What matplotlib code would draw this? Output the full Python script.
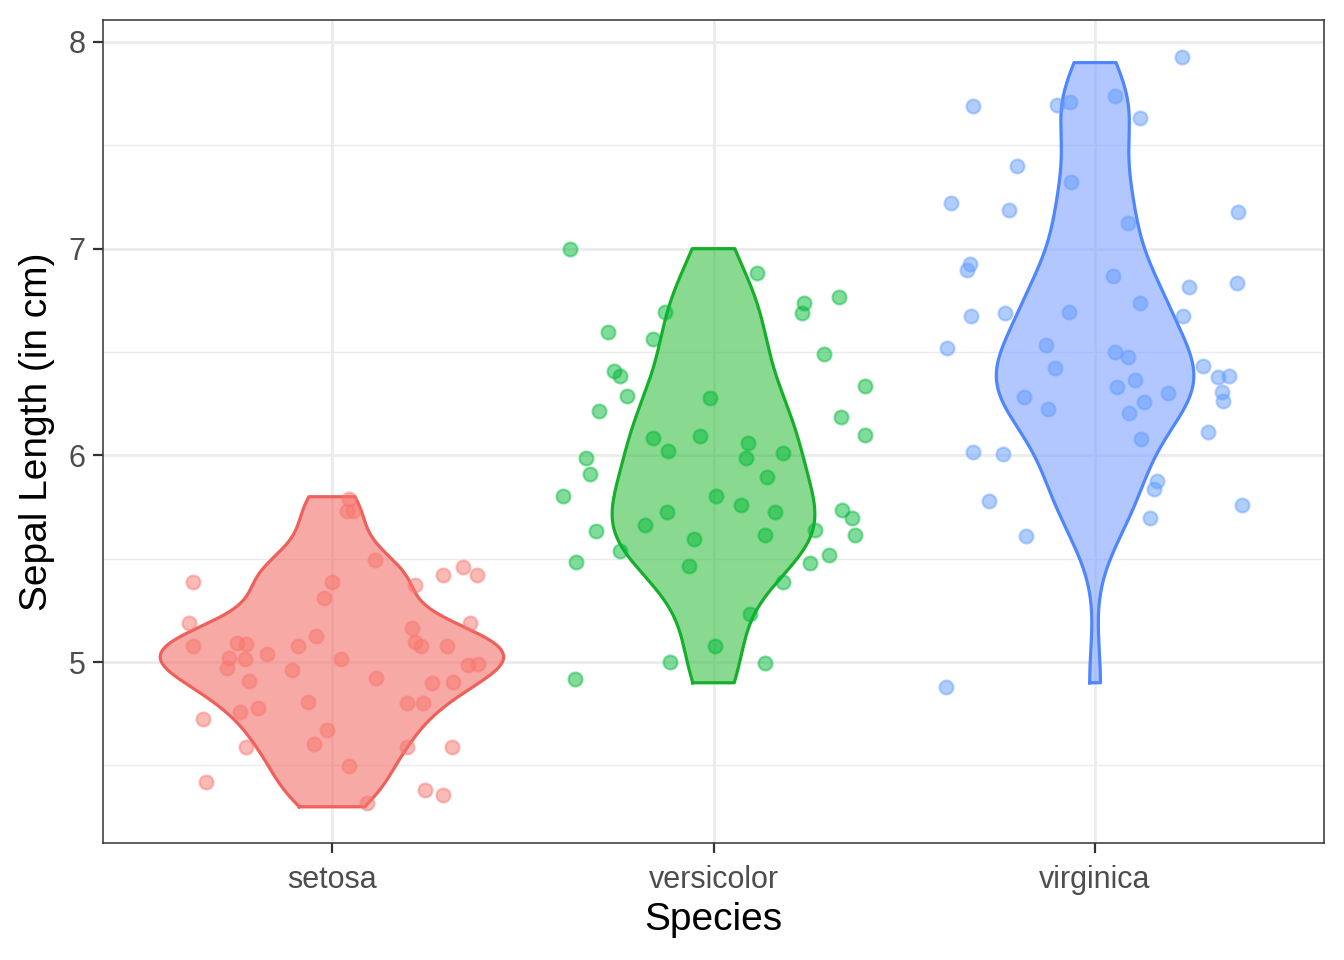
import numpy as np
import matplotlib
matplotlib.use("Agg")
import matplotlib.pyplot as plt
from matplotlib.colors import to_rgba

plt.rcParams['font.family'] = ['Liberation Sans', 'DejaVu Sans']

species = ["setosa", "versicolor", "virginica"]
point_colors = ["#F8766D", "#00BA38", "#619CFF"]
fill_colors = ["#F2716B", "#3CC046", "#80A2FF"]
line_colors = ["#F0605A", "#16AF2C", "#4E86FF"]

# Iris Sepal.Length (used for the violins)
setosa_len = [5.1, 4.9, 4.7, 4.6, 5.0, 5.4, 4.6, 5.0, 4.4, 4.9, 5.4, 4.8, 4.8, 4.3, 5.8,
              5.7, 5.4, 5.1, 5.7, 5.1, 5.4, 5.1, 4.6, 5.1, 4.8, 5.0, 5.0, 5.2, 5.2, 4.7,
              4.8, 5.4, 5.2, 5.5, 4.9, 5.0, 5.5, 4.9, 4.4, 5.1, 5.0, 4.5, 4.4, 5.0, 5.1,
              4.8, 5.1, 4.6, 5.3, 5.0]
versicolor_len = [7.0, 6.4, 6.9, 5.5, 6.5, 5.7, 6.3, 4.9, 6.6, 5.2, 5.0, 5.9, 6.0, 6.1, 5.6,
                  6.7, 5.6, 5.8, 6.2, 5.6, 5.9, 6.1, 6.3, 6.1, 6.4, 6.6, 6.8, 6.7, 6.0, 5.7,
                  5.5, 5.5, 5.8, 6.0, 5.4, 6.0, 6.7, 6.3, 5.6, 5.5, 5.5, 6.1, 5.8, 5.0, 5.6,
                  5.7, 5.7, 6.2, 5.1, 5.7]
virginica_len = [6.3, 5.8, 7.1, 6.3, 6.5, 7.6, 4.9, 7.3, 6.7, 7.2, 6.5, 6.4, 6.8, 5.7, 5.8,
                 6.4, 6.5, 7.7, 7.7, 6.0, 6.9, 5.6, 7.7, 6.3, 6.7, 7.2, 6.2, 6.1, 6.4, 7.2,
                 7.4, 7.9, 6.4, 6.3, 6.1, 7.7, 6.3, 6.4, 6.0, 6.9, 6.7, 6.9, 5.8, 6.8, 6.7,
                 6.7, 6.3, 6.5, 6.2, 5.9]

# Jittered points: horizontal offset from category, value
setosa_dx = [0.045, 0.039, 0.055, 0.113, -0.001, -0.020, -0.364, 0.218, 0.290, 0.343,
             0.379, -0.374, 0.362, -0.364, -0.250, -0.225, -0.269, -0.274, -0.228, -0.171,
             -0.088, -0.043, -0.104, 0.023, 0.209, 0.219, 0.233, 0.301, 0.357, 0.383,
             -0.218, 0.115, 0.263, 0.318, -0.062, -0.241, -0.193, 0.198, 0.239, -0.339,
             -0.014, -0.046, -0.225, 0.198, 0.314, 0.045, -0.331, 0.244, 0.290, 0.091]
setosa_y = [5.789, 5.731, 5.731, 5.494, 5.389, 5.309, 5.389, 5.373, 5.421, 5.459,
            5.421, 5.191, 5.191, 5.078, 5.091, 5.088, 5.018, 4.973, 5.014, 5.038,
            5.079, 5.128, 4.962, 5.014, 5.166, 5.099, 5.079, 5.079, 4.986, 4.989,
            4.909, 4.922, 4.897, 4.902, 4.808, 4.757, 4.776, 4.801, 4.801, 4.723,
            4.671, 4.602, 4.588, 4.588, 4.591, 4.499, 4.421, 4.381, 4.357, 4.320]

versicolor_dx = [-0.377, 0.113, -0.128, 0.237, 0.232, 0.330, -0.277, -0.159, 0.289, -0.261,
                 -0.246, -0.228, 0.398, -0.010, -0.301, 0.335, 0.396, -0.159, -0.036, -0.119,
                 0.091, 0.086, 0.183, -0.334, -0.324, 0.141, -0.395, 0.007, 0.071, -0.123,
                 0.161, 0.337, 0.364, -0.180, -0.307, -0.052, 0.134, 0.267, 0.372, -0.246,
                 -0.360, -0.063, 0.254, 0.304, 0.182, 0.095, 0.003, -0.115, 0.134, -0.364]
versicolor_y = [6.999, 6.881, 6.695, 6.739, 6.690, 6.768, 6.597, 6.562, 6.491, 6.408,
                6.384, 6.289, 6.336, 6.276, 6.216, 6.187, 6.100, 6.086, 6.094, 6.023,
                6.061, 5.989, 6.010, 5.989, 5.910, 5.897, 5.805, 5.804, 5.760, 5.728,
                5.728, 5.736, 5.696, 5.663, 5.636, 5.594, 5.615, 5.639, 5.615, 5.537,
                5.486, 5.466, 5.481, 5.518, 5.386, 5.233, 5.078, 4.999, 4.997, 4.917]

virginica_dx = [0.227, -0.321, -0.100, -0.066, 0.051, 0.118, -0.205, -0.063, -0.377, -0.225,
                0.374, 0.086, -0.328, -0.336, 0.048, 0.247, 0.371, 0.118, -0.326, -0.236,
                -0.068, 0.231, -0.387, -0.129, 0.052, 0.087, 0.284, -0.105, 0.105, 0.057,
                0.323, 0.352, -0.186, 0.192, 0.332, 0.336, 0.127, -0.124, 0.090, 0.297,
                0.120, -0.319, -0.242, 0.162, 0.155, -0.277, 0.386, 0.144, -0.181, -0.391]
virginica_y = [7.929, 7.692, 7.695, 7.708, 7.740, 7.631, 7.402, 7.324, 7.223, 7.187,
               7.179, 7.123, 6.925, 6.897, 6.869, 6.813, 6.836, 6.736, 6.676, 6.690,
               6.695, 6.676, 6.518, 6.534, 6.502, 6.476, 6.433, 6.424, 6.365, 6.332,
               6.381, 6.384, 6.284, 6.300, 6.305, 6.263, 6.260, 6.224, 6.204, 6.112,
               6.079, 6.018, 6.007, 5.878, 5.836, 5.781, 5.760, 5.696, 5.610, 4.878]

y_ticks = [5, 6, 7, 8]
y_minor = [4.5, 5.5, 6.5, 7.5]

groups = [setosa_len, versicolor_len, virginica_len]
pts_dx = [setosa_dx, versicolor_dx, virginica_dx]
pts_y = [setosa_y, versicolor_y, virginica_y]


def nrd0(x):
    x = np.asarray(x, float)
    sd = np.std(x, ddof=1)
    q75, q25 = np.percentile(x, [75, 25])
    lo = min(sd, (q75 - q25) / 1.34)
    return 0.9 * lo * len(x) ** (-0.2)


def kde(x, grid):
    x = np.asarray(x, float)
    bw = nrd0(x)
    z = (grid[:, None] - x[None, :]) / bw
    return np.exp(-0.5 * z ** 2).sum(axis=1) / (len(x) * bw * np.sqrt(2 * np.pi))


grids, dens = [], []
for g in groups:
    gr = np.linspace(min(g), max(g), 512)
    grids.append(gr)
    dens.append(kde(g, gr))
dmax = max(d.max() for d in dens)

fig = plt.figure(figsize=(13.44, 9.6), dpi=100)
ax = fig.add_axes([103 / 1344, (960 - 843) / 960, (1324 - 103) / 1344, (843 - 20) / 960])

for i, (gr, d) in enumerate(zip(grids, dens)):
    pos = i + 1
    hw = 0.45 * d / dmax
    ax.fill_betweenx(gr, pos - hw, pos + hw, facecolor=fill_colors[i], alpha=0.6,
                     edgecolor='none', zorder=2)
    xs = np.concatenate([pos - hw, (pos + hw)[::-1], [pos - hw[0]]])
    ys = np.concatenate([gr, gr[::-1], [gr[0]]])
    ax.plot(xs, ys, color=line_colors[i], lw=2.3, zorder=3, solid_joinstyle='round')

for i in range(3):
    xs = np.array(pts_dx[i]) + (i + 1)
    ax.scatter(xs, pts_y[i], s=100, facecolor=to_rgba(point_colors[i], 0.5),
               edgecolor=to_rgba(point_colors[i], 0.45), linewidths=1.6, zorder=4)

ax.set_xlim(0.4, 3.6)
ax.set_ylim(4.125, 8.106)
ax.set_xticks([1, 2, 3])
ax.set_xticklabels(species)
ax.set_yticks(y_ticks)
ax.set_yticks(y_minor, minor=True)
ax.set_yticklabels([str(t) for t in y_ticks])

ax.grid(True, which='major', color='#EBEBEB', lw=2.0, zorder=0)
ax.grid(True, which='minor', axis='y', color='#EBEBEB', lw=1.0, zorder=0)
ax.set_axisbelow(True)

for s in ax.spines.values():
    s.set_color('#333333')
    s.set_linewidth(1.1)

ax.tick_params(axis='both', which='major', length=7.5, width=1.6, color='#333333',
               labelsize=22, labelcolor='#4D4D4D', pad=5)
ax.tick_params(axis='x', which='major', pad=8)
ax.tick_params(axis='y', which='minor', length=0)

ax.set_xlabel("Species", fontsize=28)
ax.set_ylabel("Sepal Length (in cm)", fontsize=28)
ax.xaxis.set_label_coords(0.5, (843 - 930) / 823)
ax.xaxis.label.set_va('baseline')
ax.yaxis.set_label_coords((37 - 103) / 1221, 0.5)
ax.yaxis.label.set_va('center')

fig.savefig("out.png", dpi=100)
